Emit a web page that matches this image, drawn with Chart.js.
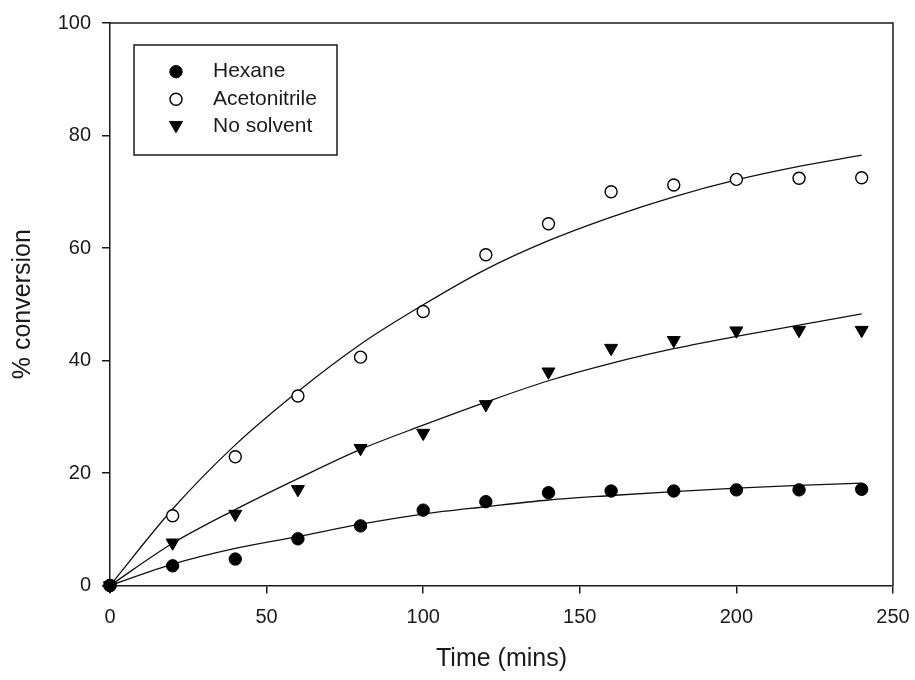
<!DOCTYPE html>
<html>
<head>
<meta charset="utf-8">
<script src="https://cdn.jsdelivr.net/npm/chart.js@4.4.1/dist/chart.umd.min.js"></script>
<style>
  html, body { margin: 0; padding: 0; background: #fff; }
  #wrap { width: 915px; height: 680px; }
</style>
</head>
<body>
<div id="wrap"><canvas id="c" width="915" height="680"></canvas></div>
<script>
// ---- data ----
const times = [0, 20, 40, 60, 80, 100, 120, 140, 160, 180, 200, 220, 240];
const hexane = [0, 3.5, 4.7, 8.3, 10.6, 13.4, 14.9, 16.5, 16.8, 16.8, 17.0, 17.0, 17.1];
const acetonitrile = [0, 12.4, 22.9, 33.7, 40.6, 48.7, 58.8, 64.3, 70.0, 71.2, 72.2, 72.4, 72.5];
const noSolvent = [0, 7.6, 12.7, 17.1, 24.4, 27.1, 32.2, 38.0, 42.2, 43.6, 45.3, 45.4, 45.4];
// fitted curves
const hexaneFit = [0, 3.8, 6.6, 8.7, 10.9, 12.7, 14.0, 15.2, 16.0, 16.7, 17.3, 17.8, 18.2];
const acetonitrileFit = [0, 13.6, 25.0, 34.5, 42.9, 49.9, 56.2, 61.3, 65.5, 69.1, 72.1, 74.5, 76.5];
const noSolventFit = [0, 7.5, 13.5, 19.0, 24.2, 28.5, 32.6, 36.4, 39.5, 42.1, 44.3, 46.3, 48.3];
const seriesNames = ['Hexane', 'Acetonitrile', 'No solvent'];
const xTitle = 'Time (mins)';
const yTitle = '% conversion';

const toXY = (ys) => ys.map((v, i) => ({ x: times[i], y: v }));
const FONT = "'Liberation Sans', Arial, sans-serif";
const INK = '#1a1a1a';

function fitLine(arr) {
  return {
    type: 'line', data: toXY(arr), borderColor: '#111', borderWidth: 1.3,
    pointRadius: 0, pointHoverRadius: 0, fill: false, cubicInterpolationMode: 'monotone',
    order: 5
  };
}
function scatter(label, arr, style) {
  return Object.assign({
    type: 'line', label, data: toXY(arr), showLine: false, clip: false,
    borderColor: '#000', pointBorderColor: '#000'
  }, style);
}

const datasets = [
  fitLine(acetonitrileFit), fitLine(noSolventFit), fitLine(hexaneFit),
  scatter(seriesNames[1], acetonitrile, { order: 3, pointStyle: 'circle', pointRadius: 6, pointBackgroundColor: '#fff', pointBorderWidth: 1.4, pointRotation: 0 }),
  scatter(seriesNames[2], noSolvent, { order: 2, pointStyle: 'triangle', pointRadius: 7.5, pointBackgroundColor: '#000', pointBorderWidth: 1, pointRotation: 180 }),
  scatter(seriesNames[0], hexane, { order: 1, pointStyle: 'circle', pointRadius: 6.2, pointBackgroundColor: '#000', pointBorderWidth: 1, pointRotation: 0 })
];

const framePlugin = {
  id: 'frame',
  beforeDatasetsDraw(chart) {
    const { ctx, chartArea: a } = chart;
    ctx.save();
    ctx.strokeStyle = INK;
    ctx.lineWidth = 1.5;
    ctx.beginPath();
    ctx.moveTo(a.left, a.top);
    ctx.lineTo(a.right, a.top);
    ctx.lineTo(a.right, a.bottom);
    ctx.stroke();
    ctx.restore();
  }
};

const legendPlugin = {
  id: 'insideLegend',
  afterDatasetsDraw(chart) {
    const { ctx, chartArea: a } = chart;
    const bx = a.left + 24, by = a.top + 22, bw = 203, bh = 110;
    ctx.save();
    ctx.fillStyle = '#fff';
    ctx.fillRect(bx, by, bw, bh);
    ctx.strokeStyle = INK;
    ctx.lineWidth = 1.5;
    ctx.strokeRect(bx, by, bw, bh);
    const order = [5, 3, 4]; // Hexane, Acetonitrile, No solvent
    const rowY = [26.7, 54.3, 81.7];
    order.forEach((di, k) => {
      const ds = chart.data.datasets[di];
      const y = by + rowY[k];
      const mx = bx + 42;
      ctx.fillStyle = ds.pointBackgroundColor;
      ctx.strokeStyle = ds.pointBorderColor;
      ctx.lineWidth = ds.pointBorderWidth;
      Chart.helpers.drawPoint(ctx, {
        pointStyle: ds.pointStyle, rotation: ds.pointRotation,
        radius: ds.pointRadius, borderWidth: ds.pointBorderWidth
      }, mx, ds.pointStyle === 'triangle' ? y - 1.5 : y);
      ctx.fillStyle = INK;
      ctx.font = '21px ' + FONT;
      ctx.textBaseline = 'middle';
      ctx.textAlign = 'left';
      ctx.fillText(ds.label, bx + 79, y);
    });
    ctx.restore();
  }
};

new Chart(document.getElementById('c'), {
  data: { datasets },
  options: {
    responsive: false,
    animation: false,
    events: [],
    layout: { padding: { top: 23, right: 22, left: 0, bottom: 0 } },
    plugins: { legend: { display: false }, tooltip: { enabled: false } },
    scales: {
      x: {
        type: 'linear', min: 0, max: 250,
        ticks: { stepSize: 50, color: INK, font: { family: FONT, size: 20 }, padding: 12 },
        grid: { display: true, drawOnChartArea: false, drawTicks: true, tickLength: 8, color: INK, lineWidth: 1.5 },
        border: { display: true, color: INK, width: 1.5 },
        title: { display: true, text: xTitle, color: INK, font: { family: FONT, size: 25 }, padding: { top: 0, bottom: 6 } },
        afterFit(scale) { scale.height = 94.5; scale.paddingRight = 0; scale.paddingLeft = 0; }
      },
      y: {
        type: 'linear', min: 0, max: 100,
        ticks: { stepSize: 20, color: INK, font: { family: FONT, size: 20 }, padding: 11 },
        grid: { display: true, drawOnChartArea: false, drawTicks: true, tickLength: 8, color: INK, lineWidth: 1.5 },
        border: { display: true, color: INK, width: 1.5 },
        title: { display: true, text: yTitle, color: INK, font: { family: FONT, size: 25 }, padding: { top: 8, bottom: 0 } },
        afterFit(scale) { scale.width = 110; }
      }
    }
  },
  plugins: [framePlugin, legendPlugin]
});
</script>
</body>
</html>
